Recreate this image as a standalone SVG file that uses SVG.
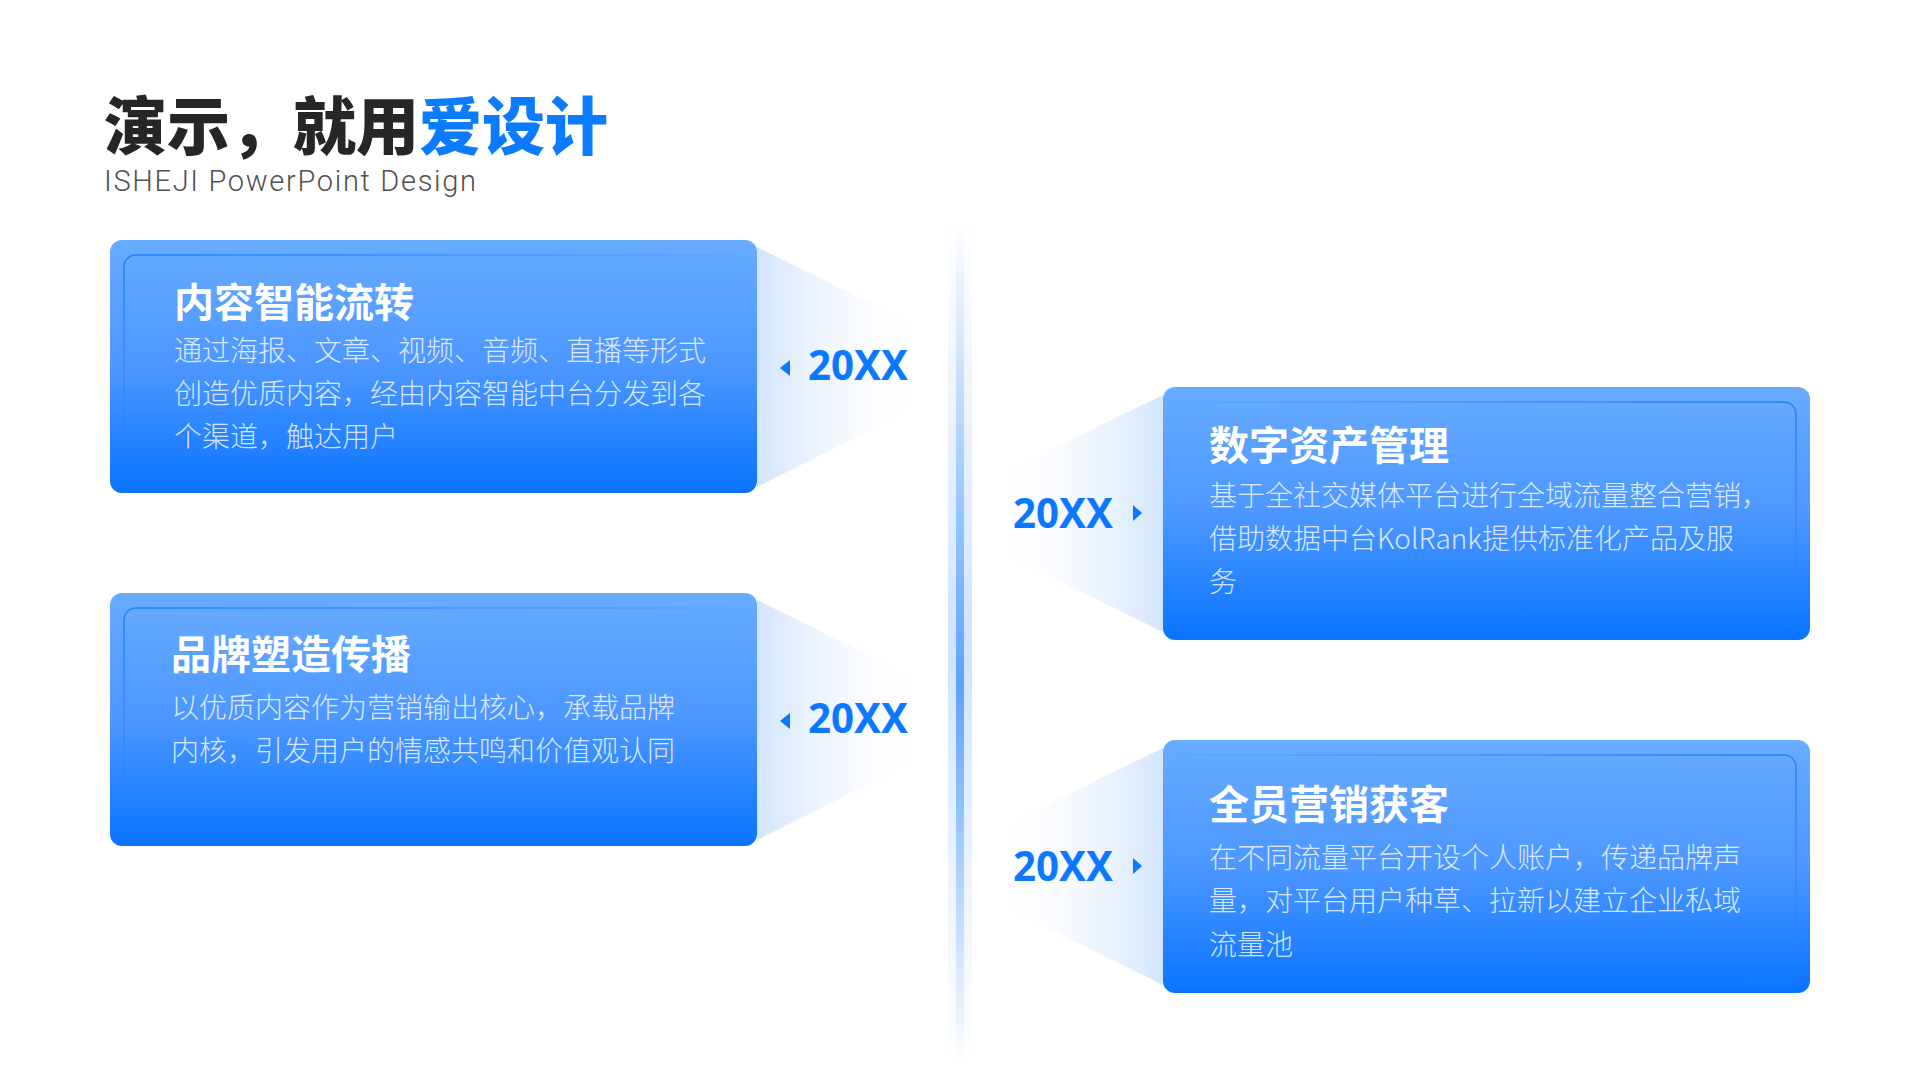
<svg xmlns="http://www.w3.org/2000/svg" width="1920" height="1080" viewBox="0 0 1920 1080">
<defs>
<style>
.cjk{font-family:"Noto Sans CJK SC","Noto Sans",sans-serif}
.ttl{font-size:40px;font-weight:700;fill:#ffffff}
.body{font-size:28px;font-weight:300;fill:#ffffff;fill-opacity:0.8}
.year{font-family:"Noto Sans","Liberation Sans",sans-serif;font-size:41px;font-weight:700;fill:#0B78FF}
.card{fill:url(#cardGrad)}
.mark{fill:#0B78FF}
</style>
<linearGradient id="cardGrad" x1="0" y1="0" x2="0" y2="1">
<stop offset="0" stop-color="#68ACFF"/>
<stop offset="0.5" stop-color="#4C97FF"/>
<stop offset="1" stop-color="#0A74FF"/>
</linearGradient>
<linearGradient id="funL" x1="0" y1="0" x2="1" y2="0">
<stop offset="0" stop-color="#D2E5FD"/>
<stop offset="1" stop-color="#FFFFFF" stop-opacity="0"/>
</linearGradient>
<linearGradient id="funR" x1="1" y1="0" x2="0" y2="0">
<stop offset="0" stop-color="#D2E5FD"/>
<stop offset="1" stop-color="#FFFFFF" stop-opacity="0"/>
</linearGradient>
<linearGradient id="bdL" x1="0" y1="0" x2="1" y2="1">
<stop offset="0" stop-color="#1E7FFF" stop-opacity="1"/>
<stop offset="0.55" stop-color="#1E7FFF" stop-opacity="0"/>
</linearGradient>
<linearGradient id="bdR" x1="1" y1="0" x2="0" y2="1">
<stop offset="0" stop-color="#1E7FFF" stop-opacity="1"/>
<stop offset="0.55" stop-color="#1E7FFF" stop-opacity="0"/>
</linearGradient>
<linearGradient id="axisGlow" x1="0" y1="0" x2="0" y2="1">
<stop offset="0" stop-color="#D6E7FD" stop-opacity="0"/>
<stop offset="0.5" stop-color="#D0E3FC" stop-opacity="1"/>
<stop offset="1" stop-color="#D6E7FD" stop-opacity="0"/>
</linearGradient>
<linearGradient id="axisCore" x1="0" y1="0" x2="0" y2="1">
<stop offset="0" stop-color="#8CC0FF" stop-opacity="0"/>
<stop offset="0.55" stop-color="#5CA3FF" stop-opacity="1"/>
<stop offset="1" stop-color="#8CC0FF" stop-opacity="0"/>
</linearGradient>
</defs>
<rect width="1920" height="1080" fill="#ffffff"/>

<g id="header">
<text x="104" y="149" class="cjk" font-size="63" font-weight="900" fill="#262626">演示，就用<tspan fill="#0B7BFF">爱设计</tspan></text>
<text x="104" y="191" font-family="Roboto,'Noto Sans','Liberation Sans',sans-serif" font-size="29" font-weight="300" fill="#505050" textLength="372" lengthAdjust="spacing">ISHEJI PowerPoint Design</text>
</g>

<g id="connectors">
<rect x="948" y="220" width="24" height="845" fill="url(#axisGlow)"/>
<rect x="956" y="220" width="8" height="845" fill="url(#axisCore)"/>
</g>

<g id="node1">
<polygon points="757,247 925,330 925,403 757,487" fill="url(#funL)"/>
<rect class="card" x="110" y="240" width="647" height="253" rx="12"/>
<rect x="124" y="255" width="619" height="224" rx="12" fill="none" stroke="url(#bdL)" stroke-width="1.5"/>
<text class="cjk ttl" x="174" y="317">内容智能流转</text>
<text class="cjk body" x="174" y="361">通过海报、文章、视频、音频、直播等形式</text>
<text class="cjk body" x="174" y="404">创造优质内容，经由内容智能中台分发到各</text>
<text class="cjk body" x="174" y="447">个渠道，触达用户</text>
<polygon class="mark" points="780,368 790,360 790,376"/>
<text class="year" x="808" y="380" textLength="100" lengthAdjust="spacingAndGlyphs">20XX</text>
</g>

<g id="node2">
<polygon points="757,600 925,683 925,756 757,840" fill="url(#funL)"/>
<rect class="card" x="110" y="593" width="647" height="253" rx="12"/>
<rect x="124" y="608" width="619" height="224" rx="12" fill="none" stroke="url(#bdL)" stroke-width="1.5"/>
<text class="cjk ttl" x="171" y="669">品牌塑造传播</text>
<text class="cjk body" x="171" y="718">以优质内容作为营销输出核心，承载品牌</text>
<text class="cjk body" x="171" y="761">内核，引发用户的情感共鸣和价值观认同</text>
<polygon class="mark" points="780,721 790,713 790,729"/>
<text class="year" x="808" y="733" textLength="100" lengthAdjust="spacingAndGlyphs">20XX</text>
</g>

<g id="node3">
<polygon points="1163,395 992,478 992,548 1163,632" fill="url(#funR)"/>
<rect class="card" x="1163" y="387" width="647" height="253" rx="12"/>
<rect x="1177" y="402" width="619" height="224" rx="12" fill="none" stroke="url(#bdR)" stroke-width="1.5"/>
<text class="cjk ttl" x="1209" y="460">数字资产管理</text>
<text class="cjk body" x="1209" y="506">基于全社交媒体平台进行全域流量整合营销，</text>
<text class="cjk body" x="1209" y="549">借助数据中台KolRank提供标准化产品及服</text>
<text class="cjk body" x="1209" y="592">务</text>
<polygon class="mark" points="1133,505 1142,513 1133,521"/>
<text class="year" x="1013" y="528" textLength="100" lengthAdjust="spacingAndGlyphs">20XX</text>
</g>

<g id="node4">
<polygon points="1163,748 992,831 992,901 1163,985" fill="url(#funR)"/>
<rect class="card" x="1163" y="740" width="647" height="253" rx="12"/>
<rect x="1177" y="755" width="619" height="224" rx="12" fill="none" stroke="url(#bdR)" stroke-width="1.5"/>
<text class="cjk ttl" x="1209" y="819">全员营销获客</text>
<text class="cjk body" x="1209" y="868">在不同流量平台开设个人账户，传递品牌声</text>
<text class="cjk body" x="1209" y="911">量，对平台用户种草、拉新以建立企业私域</text>
<text class="cjk body" x="1209" y="955">流量池</text>
<polygon class="mark" points="1133,858 1142,866 1133,874"/>
<text class="year" x="1013" y="881" textLength="100" lengthAdjust="spacingAndGlyphs">20XX</text>
</g>
</svg>
